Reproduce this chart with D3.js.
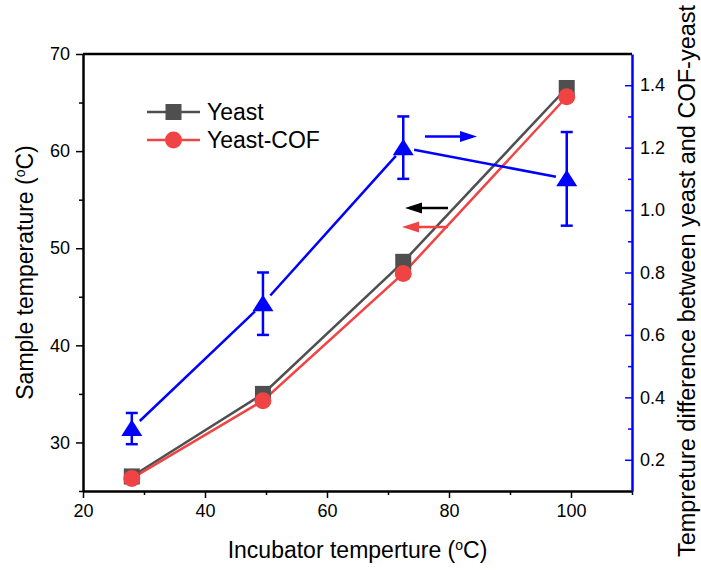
<!DOCTYPE html>
<meta charset="utf-8">
<style>
body { margin: 0; background: #fff; }
svg text { font-family: "Liberation Sans", Arial, sans-serif; fill: #000; }
</style>
<svg width="701" height="570"></svg>
<script src="https://d3js.org/d3.v7.min.js"></script>
<script>

// data
var incubator = [28, 49.5, 72.5, 99.3];
var yeast = [26.5, 35.0, 48.6, 66.5];
var yeastCof = [26.3, 34.3, 47.4, 65.6];
var diff = [0.30, 0.70, 1.20, 1.10];
var diffErr = [0.05, 0.10, 0.10, 0.15];
var xTicks = [20, 40, 60, 80, 100];
var yTicks = [30, 40, 50, 60, 70];
var y2Ticks = [0.2, 0.4, 0.6, 0.8, 1.0, 1.2, 1.4];

var svg = d3.select("svg"),
    mLeft = 83, mRight = 632, mTop = 54, mBottom = 491;

var gray = "#4f4f4f", red = "#f04444", blue = "#0000ff";

var x = d3.scaleLinear().domain([20, 110]).range([mLeft, mRight]);
var y = d3.scaleLinear().domain([25, 70]).range([mBottom, mTop]);
var y2 = d3.scaleLinear().domain([0.1, 1.5]).range([mBottom, mTop]);

// minor ticks first
svg.append("g").attr("transform", "translate(0," + mBottom + ")")
    .call(d3.axisBottom(x).tickValues([30, 50, 70, 90, 110]).tickSize(4).tickFormat("").tickSizeOuter(0))
    .call(g => g.select(".domain").remove())
    .call(g => g.selectAll("line").attr("stroke-width", 1.5));
svg.append("g").attr("transform", "translate(" + mLeft + ",0)")
    .call(d3.axisLeft(y).tickValues([25, 35, 45, 55, 65]).tickSize(4).tickFormat("").tickSizeOuter(0))
    .call(g => g.select(".domain").remove())
    .call(g => g.selectAll("line").attr("stroke-width", 1.5));
svg.append("g").attr("transform", "translate(" + mRight + ",0)")
    .call(d3.axisRight(y2).tickValues([0.3, 0.5, 0.7, 0.9, 1.1, 1.3]).tickSize(-4).tickFormat("").tickSizeOuter(0))
    .call(g => g.select(".domain").remove())
    .call(g => g.selectAll("line").attr("stroke", blue).attr("stroke-width", 1.5));

// major axes
var xAxis = svg.append("g").attr("transform", "translate(0," + mBottom + ")")
    .call(d3.axisBottom(x).tickValues(xTicks).tickSize(7).tickPadding(6).tickSizeOuter(0));
var yAxis = svg.append("g").attr("transform", "translate(" + mLeft + ",0)")
    .call(d3.axisLeft(y).tickValues(yTicks).tickSize(7).tickPadding(6).tickSizeOuter(0));
var y2Axis = svg.append("g").attr("transform", "translate(" + mRight + ",0)")
    .call(d3.axisRight(y2).tickValues(y2Ticks).tickSize(-7).tickPadding(8).tickSizeOuter(0).tickFormat(d3.format(".1f")));
y2Axis.selectAll("line").attr("stroke", blue).attr("stroke-width", 1.5);
y2Axis.select(".domain").attr("stroke", blue).attr("stroke-width", 2.5);
[xAxis, yAxis].forEach(function(a) {
  a.selectAll("line").attr("stroke-width", 1.5);
  a.select(".domain").attr("stroke-width", 2.5);
});
svg.selectAll(".tick text").attr("font-size", 18).attr("font-family", null).attr("fill", "#000");

// top frame
svg.append("line").attr("x1", mLeft).attr("x2", mRight).attr("y1", mTop).attr("y2", mTop)
    .attr("stroke", "#000").attr("stroke-width", 2.5);

// axis titles
var xt = svg.append("text").attr("x", (mLeft + mRight) / 2 + 0).attr("y", 558)
    .attr("text-anchor", "middle").style("font-size", "23px");
xt.append("tspan").text("Incubator temperture (");
xt.append("tspan").text("o").attr("dy", -8).style("font-size", "14px");
xt.append("tspan").text("C)").attr("dy", 8);

var yt = svg.append("text").attr("transform", "translate(33," + ((mTop + mBottom) / 2) + ") rotate(-90)")
    .attr("text-anchor", "middle").style("font-size", "23px");
yt.append("tspan").text("Sample temperature (");
yt.append("tspan").text("o").attr("dy", -8).style("font-size", "14px");
yt.append("tspan").text("C)").attr("dy", 8);

svg.append("text").attr("transform", "translate(695," + 281 + ") rotate(-90)")
    .attr("text-anchor", "middle").style("font-size", "23.5px")
    .text("Tempreture difference between yeast and COF-yeast");

// yeast and yeast-COF series
var line = d3.line().x(function(d) { return x(d[0]); }).y(function(d) { return y(d[1]); });
var yeastPts = d3.zip(incubator, yeast), cofPts = d3.zip(incubator, yeastCof);
svg.append("path").attr("d", line(yeastPts)).attr("fill", "none").attr("stroke", gray).attr("stroke-width", 2.5);
svg.append("path").attr("d", line(cofPts)).attr("fill", "none").attr("stroke", red).attr("stroke-width", 2.5);
svg.selectAll(".sq").data(yeastPts).enter().append("rect")
    .attr("x", function(d) { return x(d[0]) - 8; }).attr("y", function(d) { return y(d[1]) - 8; })
    .attr("width", 16).attr("height", 16).attr("fill", gray);
svg.selectAll(".ci").data(cofPts).enter().append("circle")
    .attr("cx", function(d) { return x(d[0]); }).attr("cy", function(d) { return y(d[1]); })
    .attr("r", 8.5).attr("fill", red);

// difference series (right axis) with line gaps at markers
var diffPts = d3.zip(incubator, diff, diffErr);
var gap = 11;
for (var i = 0; i < diffPts.length - 1; i++) {
  var x1 = x(diffPts[i][0]), y1 = y2(diffPts[i][1]),
      x2 = x(diffPts[i + 1][0]), y3 = y2(diffPts[i + 1][1]);
  var len = Math.hypot(x2 - x1, y3 - y1), ux = (x2 - x1) / len, uy = (y3 - y1) / len;
  svg.append("line").attr("x1", x1 + ux * gap).attr("y1", y1 + uy * gap)
      .attr("x2", x2 - ux * gap).attr("y2", y3 - uy * gap)
      .attr("stroke", blue).attr("stroke-width", 2.5);
}
var eb = svg.selectAll(".eb").data(diffPts).enter().append("g").attr("stroke", blue).attr("stroke-width", 2.5);
eb.append("line").attr("x1", function(d) { return x(d[0]); }).attr("x2", function(d) { return x(d[0]); })
    .attr("y1", function(d) { return y2(d[1] - d[2]); }).attr("y2", function(d) { return y2(d[1] + d[2]); });
eb.append("line").attr("x1", function(d) { return x(d[0]) - 6; }).attr("x2", function(d) { return x(d[0]) + 6; })
    .attr("y1", function(d) { return y2(d[1] + d[2]); }).attr("y2", function(d) { return y2(d[1] + d[2]); });
eb.append("line").attr("x1", function(d) { return x(d[0]) - 6; }).attr("x2", function(d) { return x(d[0]) + 6; })
    .attr("y1", function(d) { return y2(d[1] - d[2]); }).attr("y2", function(d) { return y2(d[1] - d[2]); });
svg.selectAll(".tri").data(diffPts).enter().append("path")
    .attr("transform", function(d) { return "translate(" + x(d[0]) + "," + y2(d[1]) + ")"; })
    .attr("d", "M0,-9L10.5,7.5L-10.5,7.5Z").attr("fill", blue);

// arrows indicating axes
function arrow(x1, x2, yy, col) {
  var dir = x2 > x1 ? 1 : -1;
  svg.append("line").attr("x1", x1).attr("x2", x2 - dir * 12).attr("y1", yy).attr("y2", yy)
      .attr("stroke", col).attr("stroke-width", 2.5);
  svg.append("path").attr("d", "M" + x2 + "," + yy + "L" + (x2 - dir * 17) + "," + (yy - 5.5) + "L" + (x2 - dir * 17) + "," + (yy + 5.5) + "Z")
      .attr("fill", col);
}
arrow(425, 477, 136.5, blue);
arrow(448, 405, 208, "#000");
arrow(448, 402, 227, red);

// legend
var legend = [["Yeast", gray, "rect"], ["Yeast-COF", red, "circle"]];
legend.forEach(function(l, i) {
  var ly = 112 + i * 28;
  svg.append("line").attr("x1", 147).attr("x2", 200).attr("y1", ly).attr("y2", ly)
      .attr("stroke", l[1]).attr("stroke-width", 2.5);
  if (l[2] === "rect") svg.append("rect").attr("x", 165.5).attr("y", ly - 8).attr("width", 16).attr("height", 16).attr("fill", l[1]);
  else svg.append("circle").attr("cx", 173.5).attr("cy", ly).attr("r", 8.5).attr("fill", l[1]);
  svg.append("text").attr("x", 207).attr("y", ly + 8).style("font-size", "23px").text(l[0]);
});

</script>
